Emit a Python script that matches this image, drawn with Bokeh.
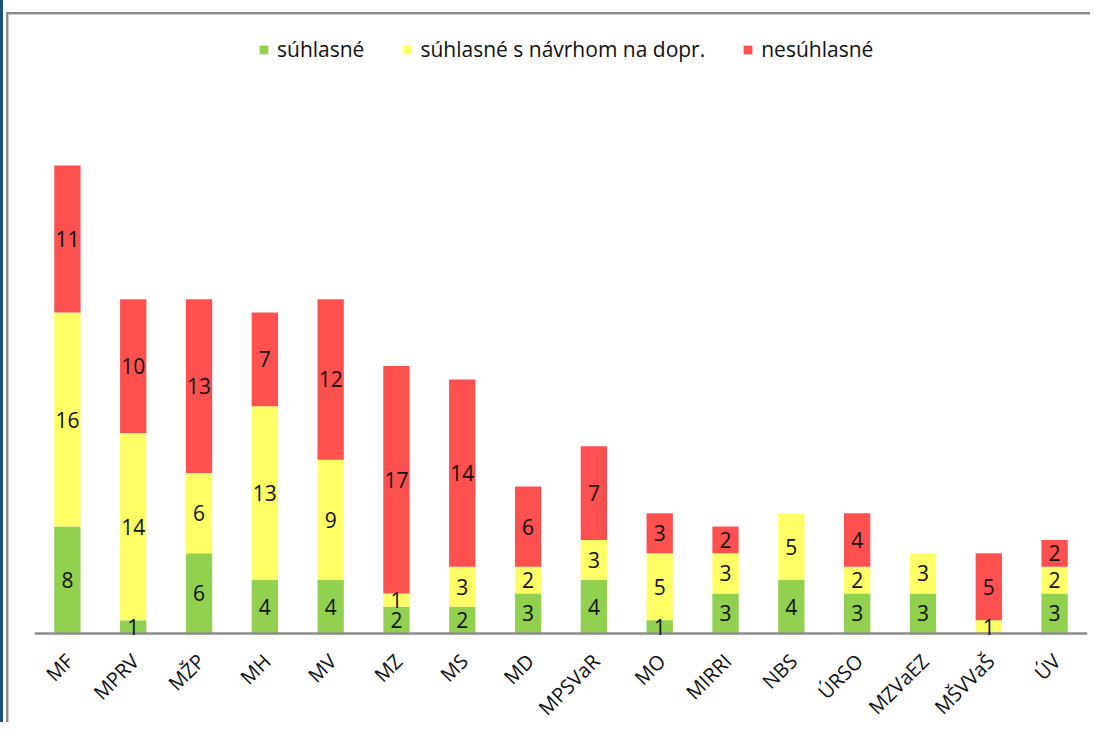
import numpy as np
from bokeh.plotting import figure
from bokeh.models import ColumnDataSource, Range1d
from bokeh.core.properties import value
from bokeh.embed import file_html
from bokeh.resources import INLINE

categories = ["MF", "MPRV", "MŽP", "MH", "MV", "MZ", "MS", "MD", "MPSVaR",
              "MO", "MIRRI", "NBS", "ÚRSO", "MZVaEZ", "MŠVVaŠ", "ÚV"]
suhlasne = [8, 1, 6, 4, 4, 2, 2, 3, 4, 1, 3, 4, 3, 3, 0, 3]
suhlasne_s_navrhom = [16, 14, 6, 13, 9, 1, 3, 2, 3, 5, 3, 5, 2, 3, 1, 2]
nesuhlasne = [11, 10, 13, 7, 12, 17, 14, 6, 7, 3, 2, 0, 4, 0, 5, 2]
series_names = ["súhlasné", "súhlasné s návrhom na dopr.", "nesúhlasné"]
colors = ["#92D050", "#FFFF66", "#FF5050"]

FONT = "Open Sans"
n = len(categories)

# layout (pixels)
W, H = 1090, 722
FRAME_TOP, BASELINE = 20, 633
PPU = 13.371  # pixels per unit

src = ColumnDataSource(dict(cat=categories, s1=suhlasne, s2=suhlasne_s_navrhom, s3=nesuhlasne))

frame_css = ("linear-gradient(#8c8c8c,#8c8c8c) 6px 12px / 2px 100% no-repeat, "
             "linear-gradient(#c8c8c8,#c8c8c8) 8px 14px / 1px 100% no-repeat, "
             "linear-gradient(#8c8c8c,#8c8c8c) 6px 12px / 100% 2px no-repeat, "
             "linear-gradient(#c8c8c8,#c8c8c8) 8px 14px / 100% 1px no-repeat, "
             "linear-gradient(#1f4e79,#1f4e79) 0 0 / 3px 100% no-repeat, #ffffff")

p = figure(width=W, height=H, output_backend="svg", toolbar_location=None,
           x_range=categories,
           y_range=Range1d(-(H - BASELINE) / PPU, (BASELINE - FRAME_TOP) / PPU),
           min_border_left=34, min_border_right=3, min_border_top=FRAME_TOP,
           min_border_bottom=0, styles={"background": frame_css})
p.outline_line_color = None
p.xgrid.visible = False
p.ygrid.visible = False
p.yaxis.visible = False
p.xaxis.visible = False
p.background_fill_color = None
p.border_fill_color = None
p.x_range.range_padding = 0

p.vbar_stack(["s1", "s2", "s3"], x="cat", width=0.4, color=colors, line_color=None,
             source=src, legend_label=series_names)

# category axis baseline
p.hspan(y=[0], line_color="#8c8c8c", line_width=2.5)

# category labels (rotated, under the baseline)
p.text(x=categories, y=[0] * n, text=categories, angle=np.pi / 4,
       x_offset=2, y_offset=24, text_align="right", text_baseline="middle",
       text_font=value(FONT), text_font_size="20px", text_color="#111111")

# segment labels
lx, ly, lt = [], [], []
stack = np.vstack([suhlasne, suhlasne_s_navrhom, nesuhlasne])
cum = np.cumsum(stack, axis=0)
for j in range(stack.shape[0]):
    for i in range(n):
        v = int(stack[j, i])
        if v > 0:
            lx.append(categories[i])
            ly.append(float(cum[j, i] - v / 2))
            lt.append(str(v))
p.text(x=lx, y=ly, text=lt, text_align="center", text_baseline="middle",
       text_font=value(FONT), text_font_size="21px", text_color="#111111")

lg = p.legend[0]
lg.orientation = "horizontal"
lg.location = (224, H - 63)
lg.padding = 0
lg.margin = 0
lg.spacing = 37
lg.label_standoff = 8
lg.glyph_width = 11
lg.glyph_height = 11
lg.label_height = 22
lg.label_text_font = FONT
lg.label_text_font_size = "21px"
lg.label_text_color = "#111111"
lg.border_line_color = None
lg.background_fill_alpha = 0

open("out.html", "w").write(file_html(p, INLINE))
